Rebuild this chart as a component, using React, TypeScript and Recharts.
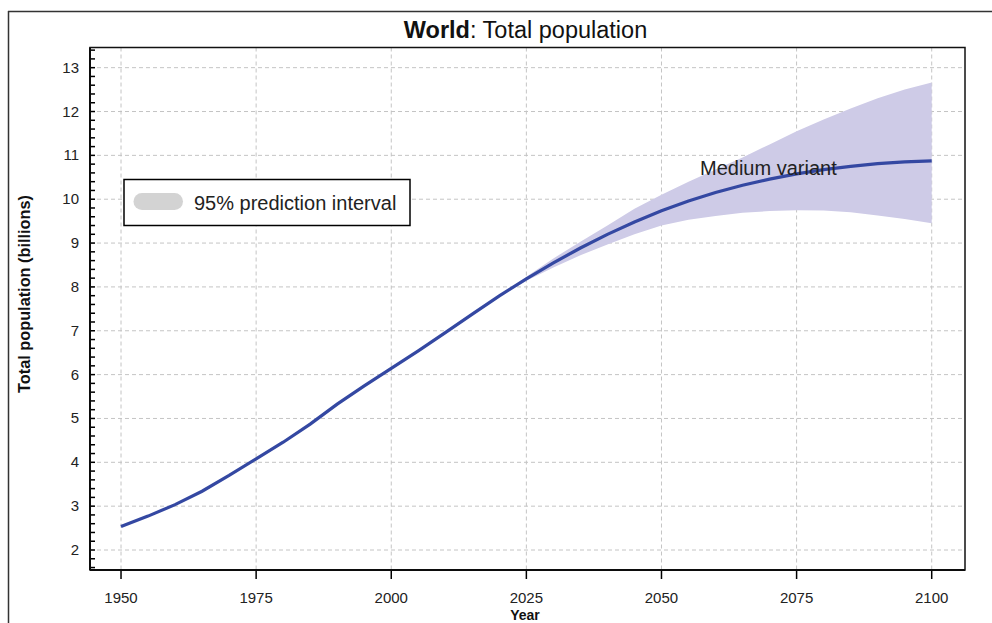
import React from "react";
import {
  ComposedChart,
  Line,
  Area,
  XAxis,
  YAxis,
  CartesianGrid,
} from "recharts";

const years = [
  1950, 1955, 1960, 1965, 1970, 1975, 1980, 1985, 1990, 1995, 2000, 2005, 2010,
  2015, 2020, 2025, 2030, 2035, 2040, 2045, 2050, 2055, 2060, 2065, 2070, 2075,
  2080, 2085, 2090, 2095, 2100,
];
const medianPop = [
  2.536, 2.773, 3.035, 3.34, 3.7, 4.079, 4.458, 4.871, 5.327, 5.744, 6.143,
  6.542, 6.957, 7.38, 7.795, 8.184, 8.548, 8.888, 9.199, 9.482, 9.735, 9.958,
  10.152, 10.318, 10.459, 10.577, 10.674, 10.75, 10.81, 10.852, 10.875,
];
const lower95: (number | null)[] = [
  null, null, null, null, null, null, null, null, null, null, null, null, null,
  null, 7.79, 8.14, 8.44, 8.72, 8.97, 9.2, 9.4, 9.53, 9.62, 9.69, 9.73, 9.75,
  9.74, 9.7, 9.63, 9.55, 9.45,
];
const upper95: (number | null)[] = [
  null, null, null, null, null, null, null, null, null, null, null, null, null,
  null, 7.8, 8.23, 8.65, 9.03, 9.4, 9.78, 10.1, 10.4, 10.68, 10.95, 11.25,
  11.55, 11.82, 12.07, 12.3, 12.5, 12.66,
];

const xTicks = [1950, 1975, 2000, 2025, 2050, 2075, 2100];
const yMajorTicks = [2, 3, 4, 5, 6, 7, 8, 9, 10, 11, 12, 13];
const yMinorTicks = Array.from({ length: 60 }, (_, i) =>
  Math.round((1.6 + i * 0.2) * 10) / 10
);

const data = years.map((year, i) => ({
  year,
  median: medianPop[i],
  band:
    lower95[i] == null || upper95[i] == null ? null : [lower95[i], upper95[i]],
}));

const FONT = '"Liberation Sans", Arial, sans-serif';
const X_DOMAIN: [number, number] = [1944.26, 2106.16];
const Y_DOMAIN: [number, number] = [1.544, 13.46];

const YTick = (props: any) => {
  const { x, y, payload } = props;
  const v = payload.value;
  const major = Math.abs(v - Math.round(v)) < 1e-6;
  return (
    <g>
      <line x1={x} x2={x + 5} y1={y} y2={y} stroke="#000" strokeWidth={1.5} />
      {major && (
        <text
          x={x - 11}
          y={y}
          dy={5}
          textAnchor="end"
          fontSize={15}
          fill="#222"
          fontFamily={FONT}
        >
          {v}
        </text>
      )}
    </g>
  );
};

export default function App() {
  return (
    <div
      style={{
        position: "fixed",
        left: 0,
        top: 0,
        width: 992,
        height: 623,
        overflow: "hidden",
        background: "#fff",
      }}
    >
      <ComposedChart
        width={992}
        height={623}
        data={data}
        margin={{ top: 47.5, right: 27, bottom: 13, left: 40 }}
        style={{ position: "absolute", left: 0, top: 0 }}
      >
        <XAxis
          xAxisId="x"
          dataKey="year"
          type="number"
          domain={X_DOMAIN}
          allowDataOverflow
          ticks={xTicks}
          interval={0}
          height={40}
          tickSize={9}
          tickMargin={13}
          axisLine={{ stroke: "#000", strokeWidth: 2 }}
          tickLine={{ stroke: "#000", strokeWidth: 1.5 }}
          tick={{ fontSize: 15, fill: "#222", fontFamily: FONT }}
        />
        <YAxis
          yAxisId="y"
          type="number"
          domain={Y_DOMAIN}
          allowDataOverflow
          ticks={yMinorTicks}
          interval={0}
          width={50}
          tickSize={0}
          tickMargin={0}
          tickLine={false}
          axisLine={{ stroke: "#000", strokeWidth: 2 }}
          tick={YTick}
        />
        <Area
          xAxisId="x"
          yAxisId="y"
          type="linear"
          dataKey="band"
          stroke="none"
          fill="#cecbe7"
          fillOpacity={1}
          isAnimationActive={false}
          dot={false}
          activeDot={false}
        />
        <CartesianGrid
          xAxisId="x"
          yAxisId="y"
          horizontalValues={yMajorTicks}
          verticalValues={xTicks}
          stroke="#c4c4c4"
          strokeDasharray="4 3"
          fill="none"
        />
        <Line
          xAxisId="x"
          yAxisId="y"
          type="linear"
          dataKey="median"
          stroke="#3448a2"
          strokeWidth={3.2}
          dot={false}
          activeDot={false}
          isAnimationActive={false}
        />
      </ComposedChart>
      <svg
        width={992}
        height={623}
        style={{ position: "absolute", left: 0, top: 0, pointerEvents: "none" }}
        fontFamily={FONT}
      >
        <line x1={8.5} y1={11} x2={8.5} y2={623} stroke="#333" strokeWidth={1.5} />
        <line x1={8} y1={11.5} x2={992} y2={11.5} stroke="#333" strokeWidth={1.5} />
        <rect
          x={90}
          y={47.5}
          width={875}
          height={522.5}
          fill="none"
          stroke="#111"
          strokeWidth={1.5}
        />
        <text x={525.5} y={38} textAnchor="middle" fontSize={23.5} fill="#111">
          <tspan fontWeight="bold">World</tspan>
          <tspan>: Total population</tspan>
        </text>
        <rect
          x={124}
          y={179.5}
          width={286}
          height={46}
          fill="#fff"
          stroke="#000"
          strokeWidth={1.5}
        />
        <rect x={133.5} y={193} width={49.5} height={17} rx={8.5} fill="#d3d3d3" />
        <text x={194} y={210} fontSize={20} fill="#222">
          95% prediction interval
        </text>
        <text x={700} y={175} fontSize={20} fill="#222">
          Medium variant
        </text>
        <text
          x={30}
          y={294}
          transform="rotate(-90 30 294)"
          textAnchor="middle"
          fontSize={16.3}
          fontWeight="bold"
          fill="#111"
        >
          Total population (billions)
        </text>
        <text
          x={525}
          y={620}
          textAnchor="middle"
          fontSize={14}
          fontWeight="bold"
          fill="#111"
        >
          Year
        </text>
      </svg>
    </div>
  );
}
